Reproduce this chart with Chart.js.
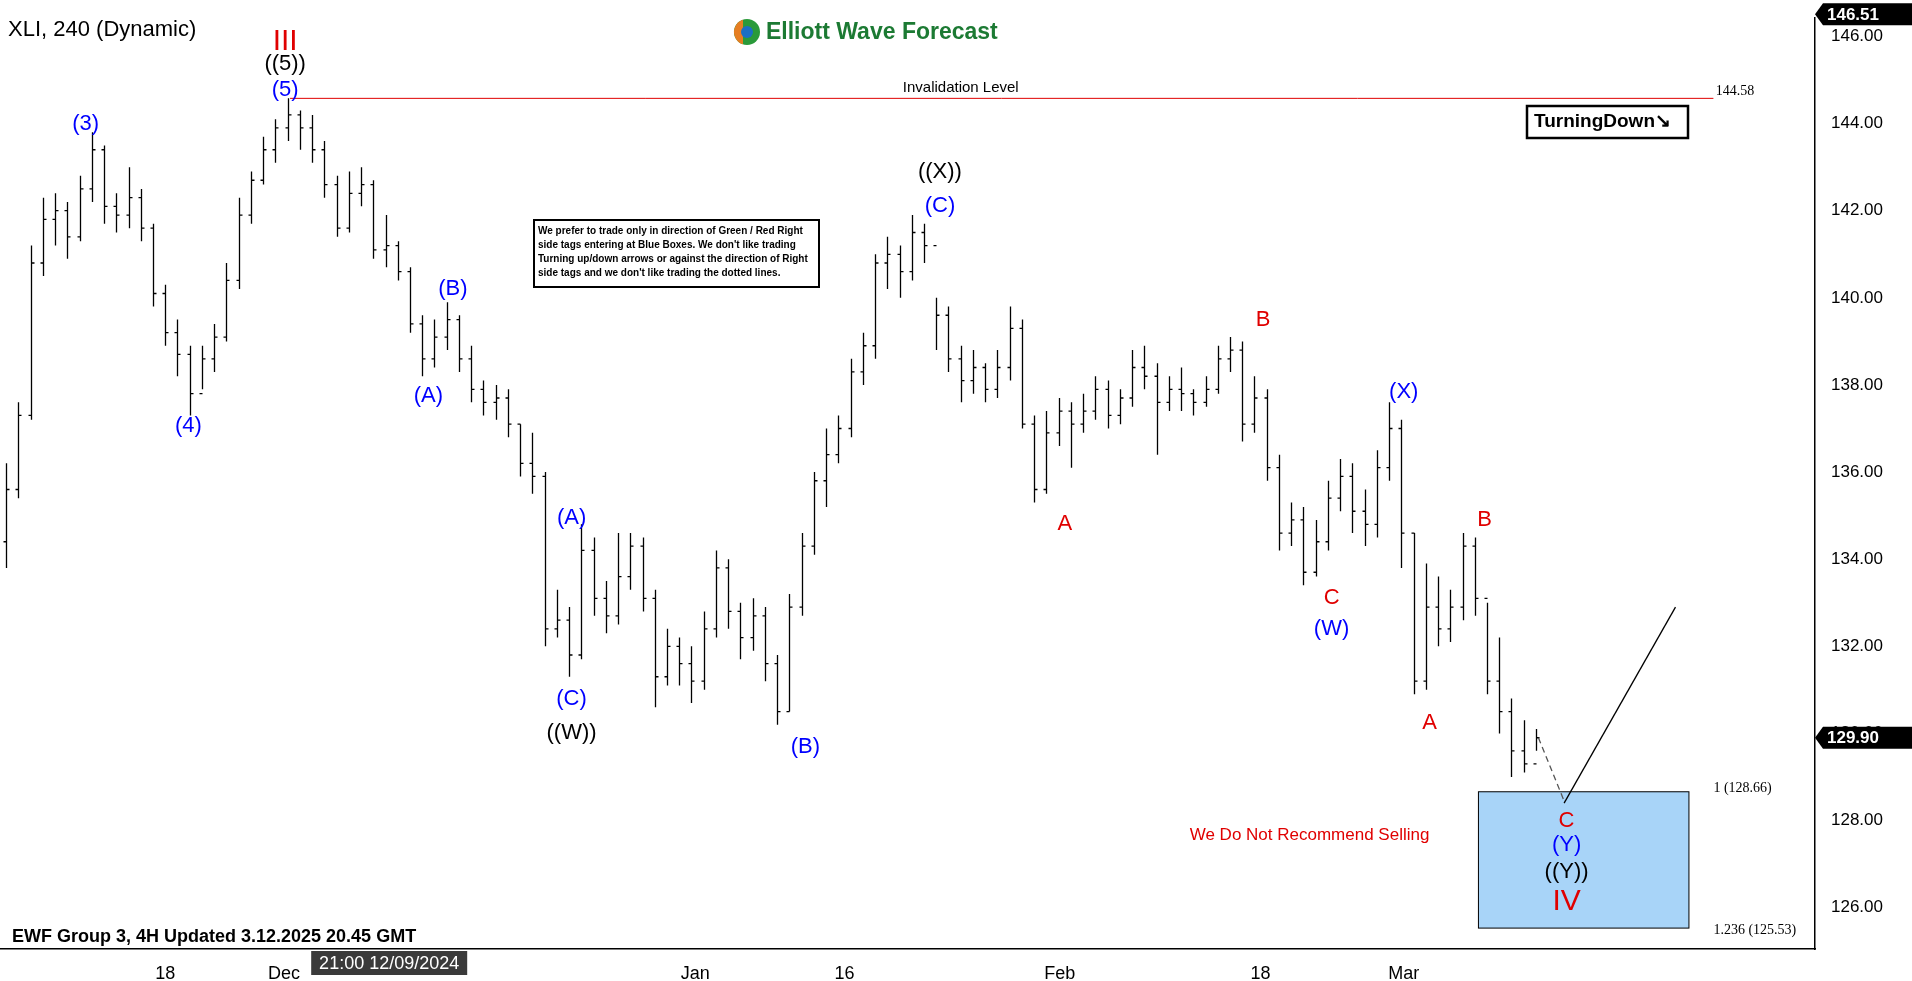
<!DOCTYPE html>
<html><head><meta charset="utf-8">
<script src="https://cdn.jsdelivr.net/npm/chart.js@4"></script>
<style>html,body{margin:0;padding:0;background:#fff}#c{display:block}</style>
</head><body>
<canvas id="c" width="1912" height="981"></canvas>
<script>
const closes=[135.6,137.3,140.8,141.8,142.0,141.4,142.5,143.4,142.1,141.9,
142.3,141.6,140.1,139.2,138.7,137.8,138.6,139.1,140.4,141.9,
142.7,143.4,143.9,144.2,143.9,143.4,142.6,141.6,142.4,142.6,
141.1,141.2,140.6,139.4,138.6,139.1,139.5,138.6,137.9,137.6,
137.7,137.1,136.2,135.9,132.4,132.6,131.8,134.2,133.1,132.7,
133.6,134.3,133.1,131.3,132.0,131.6,131.2,132.4,133.8,132.8,
132.2,132.7,131.6,130.5,132.9,134.3,135.8,136.4,137.0,138.3,
138.9,140.8,141.0,140.6,141.5,141.2,139.6,138.6,138.1,138.4,
137.9,138.4,139.3,137.1,135.6,136.9,137.4,137.1,137.4,137.9,
137.3,137.7,138.4,138.2,137.6,137.9,137.8,137.6,137.9,138.6,
138.8,137.1,137.7,136.1,134.6,134.9,133.7,134.4,135.4,135.9,
135.1,134.8,136.1,137.0,134.6,131.2,132.9,132.4,132.9,134.3,
133.1,131.2,130.5,129.6,129.3,129.9];
const highs=[136.2,137.6,141.2,142.3,142.4,142.2,142.8,143.8,143.5,142.4,
143.0,142.5,141.7,140.3,139.5,138.9,138.9,139.4,140.8,142.3,
142.9,143.7,144.1,144.58,144.3,144.2,143.6,142.8,142.9,143.0,
142.7,141.9,141.3,140.7,139.6,139.5,139.9,139.6,138.9,138.1,
138.0,137.9,137.1,136.9,136.0,133.3,132.9,134.8,134.5,133.5,
134.6,134.6,134.5,133.3,132.4,132.2,132.0,132.8,134.2,134.0,
133.0,133.1,132.9,131.8,133.2,134.6,136.0,137.0,137.3,138.6,
139.2,141.0,141.4,141.2,141.9,141.7,140.0,139.8,138.9,138.8,
138.5,138.8,139.8,139.5,137.3,137.4,137.7,137.6,137.8,138.2,
138.1,137.9,138.8,138.9,138.5,138.2,138.4,137.9,138.2,138.9,
139.1,139.0,138.2,137.9,136.4,135.3,135.2,134.9,135.8,136.3,
136.2,135.6,136.5,137.6,137.2,134.6,133.9,133.6,133.3,134.6,
134.5,133.0,132.2,130.8,130.3,130.1];
const lows=[133.8,135.4,137.2,140.5,141.2,140.9,141.3,142.2,141.7,141.5,
141.6,141.3,139.8,138.9,138.2,137.3,137.9,138.3,139.0,140.2,
141.7,142.6,143.1,143.6,143.4,143.1,142.3,141.4,141.5,142.1,
140.9,140.7,140.4,139.2,138.2,138.4,138.8,138.3,137.6,137.3,
137.2,136.8,135.9,135.5,132.0,132.2,131.3,131.7,132.7,132.3,
132.5,133.3,132.8,130.6,131.1,131.1,130.7,131.0,132.2,132.4,
131.7,131.9,131.2,130.2,130.5,132.7,134.1,135.2,136.2,136.8,
138.0,138.6,140.2,140.0,140.4,140.8,138.8,138.3,137.6,137.8,
137.6,137.7,138.1,137.0,135.3,135.5,136.6,136.1,136.9,137.2,
137.0,137.1,137.5,137.9,136.4,137.4,137.4,137.3,137.5,137.8,
138.3,136.7,136.9,135.8,134.2,134.3,133.4,133.6,134.2,135.1,
134.6,134.3,134.5,135.8,133.8,130.9,131.0,132.0,132.1,132.6,
132.7,130.9,130.0,129.0,129.1,129.6];
const tickPos=[13,22.7,56.3,68.5,86.1,102.5,114.2];
const tickText=['18','Dec','Jan','16','Feb','18','Mar'];
const yTicks=[126,128,130,132,134,136,138,140,142,144,146];
// wave labels: [x index, price, text, color, size]
const waveLabels=[
[6.5,144.0,'(3)','#0000ff',22],[14.9,137.05,'(4)','#0000ff',22],
[22.8,144.77,'(5)','#0000ff',22],[22.8,145.36,'((5))','#000',22],[22.8,145.89,'III','#e00000',30],
[34.5,137.75,'(A)','#0000ff',22],[36.5,140.2,'(B)','#0000ff',22],
[46.2,134.95,'(A)','#0000ff',22],[46.2,130.8,'(C)','#0000ff',22],[46.2,130.0,'((W))','#000',22],
[65.3,129.7,'(B)','#0000ff',22],[76.3,142.1,'(C)','#0000ff',22],[76.3,142.9,'((X))','#000',22],
[86.5,134.8,'A','#e00000',22],[102.7,139.5,'B','#e00000',22],[108.3,133.1,'C','#e00000',22],
[108.3,132.4,'(W)','#0000ff',22],[114.2,137.85,'(X)','#0000ff',22],[116.3,130.25,'A','#e00000',22],
[120.8,134.9,'B','#e00000',22],[127.5,128.0,'C','#e00000',22],[127.5,127.45,'(Y)','#0000ff',22],
[127.5,126.81,'((Y))','#000',22],[127.5,126.14,'IV','#e00000',30]];
const invalidation=144.58, box=[120.3,137.5,125.53,128.66];

const ctx=document.getElementById('c').getContext('2d');
const ohlc={id:'ohlc',afterDatasetsDraw(ch){
  const c=ch.ctx,x=ch.scales.x,y=ch.scales.y,A=ch.chartArea;
  c.save();
  c.fillStyle='#a8d4f8';c.strokeStyle='#000';c.lineWidth=1;
  const bx0=x.getPixelForValue(box[0]),bx1=x.getPixelForValue(box[1]),by0=y.getPixelForValue(box[3]),by1=y.getPixelForValue(box[2]);
  c.fillRect(bx0,by0,bx1-bx0,by1-by0);c.strokeRect(bx0,by0,bx1-bx0,by1-by0);
  c.font='14px "Liberation Serif"';c.fillStyle='#000';c.textAlign='left';c.textBaseline='middle';
  c.fillText('1 (128.66)',x.getPixelForValue(139.5),by0-3);
  c.fillText('1.236 (125.53)',x.getPixelForValue(139.5),by1+2);
  c.strokeStyle='#e00000';c.beginPath();const iy=y.getPixelForValue(invalidation);
  c.moveTo(x.getPixelForValue(23.2),iy);c.lineTo(x.getPixelForValue(139.5),iy);c.stroke();
  c.textAlign='center';c.textBaseline='bottom';c.font='15px "Liberation Sans"';
  c.fillText('Invalidation Level',x.getPixelForValue(78),iy-3);
  c.textAlign='left';c.textBaseline='middle';c.font='14px "Liberation Serif"';
  c.fillText('144.58',x.getPixelForValue(139.7),iy-7);
  c.strokeStyle='#000';c.lineWidth=1.3;
  for(let i=0;i<closes.length;i++){
    const px=Math.round(x.getPixelForValue(i))+0.5,o=i?closes[i-1]:lows[0]+0.6;
    c.beginPath();c.moveTo(px,y.getPixelForValue(highs[i]));c.lineTo(px,y.getPixelForValue(lows[i]));
    c.moveTo(px-3,y.getPixelForValue(o));c.lineTo(px,y.getPixelForValue(o));
    c.moveTo(px,y.getPixelForValue(closes[i]));c.lineTo(px+3,y.getPixelForValue(closes[i]));c.stroke();
  }
  c.lineWidth=1.3;c.beginPath();c.moveTo(x.getPixelForValue(127.3),y.getPixelForValue(128.4));
  c.lineTo(x.getPixelForValue(136.4),y.getPixelForValue(132.9));c.stroke();
  c.setLineDash([6,4]);c.strokeStyle='#555';c.beginPath();c.moveTo(x.getPixelForValue(125.2),y.getPixelForValue(129.9));
  c.lineTo(x.getPixelForValue(127.3),y.getPixelForValue(128.45));c.stroke();c.setLineDash([]);
  c.textAlign='center';c.textBaseline='middle';
  waveLabels.forEach(w=>{c.fillStyle=w[3];c.font=w[4]+'px "Liberation Sans"';
    c.fillText(w[2],x.getPixelForValue(w[0]),y.getPixelForValue(w[1]));});
  c.fillStyle='#e00000';c.font='17px "Liberation Sans Narrow","Liberation Sans"';
  c.fillText('We Do Not Recommend Selling',x.getPixelForValue(106.5),y.getPixelForValue(127.65));
  const ix=534,iyb=220;c.fillStyle='#fff';c.strokeStyle='#000';c.lineWidth=2;
  c.fillRect(ix,iyb,285,67);c.strokeRect(ix,iyb,285,67);
  c.fillStyle='#000';c.font='bold 10px "Liberation Sans"';c.textAlign='left';c.textBaseline='top';
  ['We prefer to trade only in direction of Green / Red Right','side tags entering at Blue Boxes. We don\'t like trading',
   'Turning up/down arrows or against the direction of Right','side tags and we don\'t like trading the dotted lines.']
   .forEach((t,k)=>c.fillText(t,ix+4,iyb+6+k*14));
  c.lineWidth=2.5;c.strokeRect(1527,106,161,32);c.font='bold 19px "Liberation Sans"';c.textBaseline='middle';
  c.fillText('TurningDown\u2198',1534,122);
  c.font='22px "Liberation Sans"';c.fillText('XLI, 240 (Dynamic)',8,30);
  c.beginPath();c.fillStyle='#2a9a3a';c.arc(747,32,13,0,Math.PI*2);c.fill();
  c.beginPath();c.fillStyle='#e67e22';c.arc(747,32,13,Math.PI*0.6,Math.PI*1.4);c.fill();
  c.beginPath();c.fillStyle='#1a6fc4';c.arc(747,32,6,0,Math.PI*2);c.fill();
  c.fillStyle='#1c7a33';c.font='bold 23px "Liberation Sans"';c.fillText('Elliott Wave Forecast',766,33);
  c.fillStyle='#000';c.font='bold 18px "Liberation Sans"';c.fillText('EWF Group 3, 4H Updated 3.12.2025 20.45 GMT',12,937);
  const tag=(v,txt)=>{const py=y.getPixelForValue(v);c.fillStyle='#000';
    c.beginPath();c.moveTo(A.right,py);c.lineTo(A.right+8,py-11);c.lineTo(A.right+97,py-11);c.lineTo(A.right+97,py+11);c.lineTo(A.right+8,py+11);c.closePath();c.fill();
    c.fillStyle='#fff';c.font='bold 17px "Liberation Sans"';c.textAlign='left';c.fillText(txt,A.right+12,py+1);};
  tag(129.9,'129.90');tag(146.51,'146.51');
  const dx=x.getPixelForValue(31.3);c.fillStyle='#3a3a3a';c.fillRect(dx-78,A.bottom+2,156,24);
  c.fillStyle='#fff';c.font='18px "Liberation Sans"';c.textAlign='center';c.fillText('21:00 12/09/2024',dx,A.bottom+15);
  c.restore();
}};
new Chart(ctx,{type:'scatter',data:{datasets:[{data:closes.map((v,i)=>({x:i,y:v})),pointRadius:0}]},
options:{responsive:false,animation:false,events:[],
 layout:{padding:{top:0,left:0,right:0,bottom:0}},
 plugins:{legend:{display:false},tooltip:{enabled:false}},
 scales:{
  x:{type:'linear',min:-0.5,max:147.8,grid:{display:false},border:{color:'#000',width:1.5},
     afterBuildTicks:a=>{a.ticks=tickPos.map(v=>({value:v}));},
     afterFit:a=>{a.height=32;},
     ticks:{color:'#000',font:{size:18,family:'Liberation Sans'},maxRotation:0,autoSkip:false,padding:6,
       callback:(v)=>{const k=tickPos.indexOf(v);return k>=0?tickText[k]:'';}}},
  y:{position:'right',min:125.05,max:146.42,grid:{display:false},border:{color:'#000',width:1.5},
     afterBuildTicks:a=>{a.ticks=yTicks.map(v=>({value:v}));},
     afterFit:a=>{a.width=97;},
     ticks:{color:'#000',font:{size:17,family:'Liberation Sans'},padding:8,callback:v=>v.toFixed(2)}}
 }},plugins:[ohlc]});
</script></body></html>
